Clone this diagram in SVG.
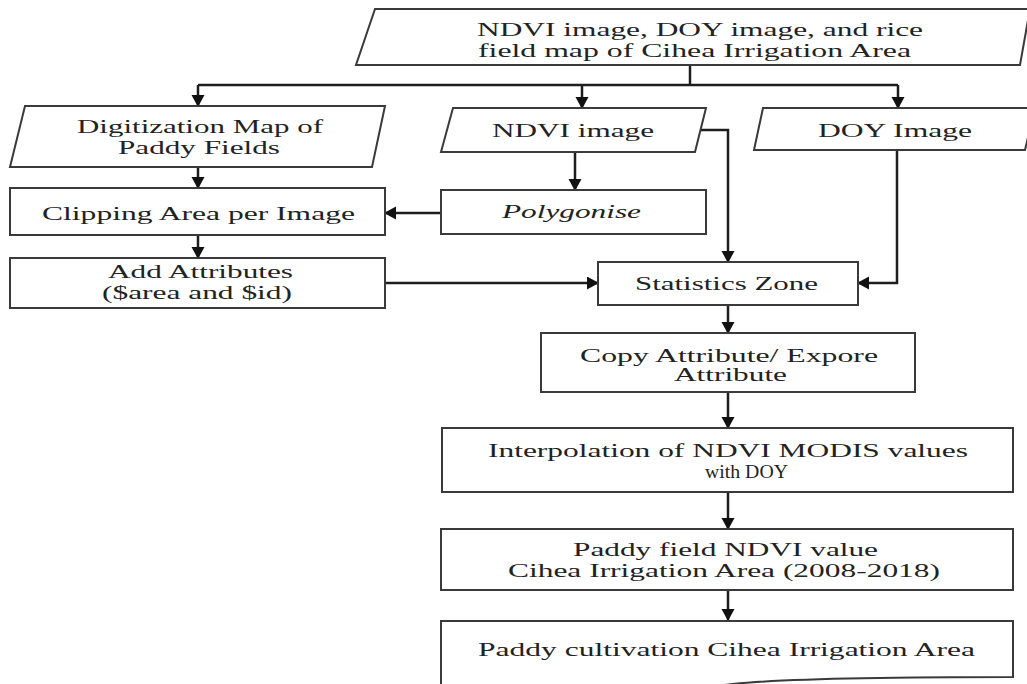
<svg xmlns="http://www.w3.org/2000/svg" width="1027" height="684" viewBox="0 0 1027 684">
<style>
.box{fill:#fff;stroke:#3a3a3a;stroke-width:2}
.t{font-family:"Liberation Serif","Times New Roman",serif;font-size:19.5px;fill:#222}
.i{font-style:italic}
.c{fill:none;stroke:#1e1e1e;stroke-width:2.5}
</style>
<defs>
<marker id="ah" markerUnits="userSpaceOnUse" markerWidth="14" markerHeight="14" refX="11" refY="6.5" orient="auto">
<path d="M0,0 L12,6.5 L0,13 Z" fill="#111"/>
</marker>
</defs>
<rect width="1027" height="684" fill="#fff"/>
<g id="connectors">
<path class="c" d="M690,65 V85"/>
<path class="c" d="M198,85 H898"/>
<path class="c" d="M198,85 V106" marker-end="url(#ah)"/>
<path class="c" d="M582,85 V108" marker-end="url(#ah)"/>
<path class="c" d="M898,85 V108" marker-end="url(#ah)"/>
<path class="c" d="M198,167 V188" marker-end="url(#ah)"/>
<path class="c" d="M198,235 V258" marker-end="url(#ah)"/>
<path class="c" d="M441,213 H385" marker-end="url(#ah)"/>
<path class="c" d="M575,152 V190" marker-end="url(#ah)"/>
<path class="c" d="M700,130 H728 V262" marker-end="url(#ah)"/>
<path class="c" d="M897,150 V283 H858" marker-end="url(#ah)"/>
<path class="c" d="M385,283 H598" marker-end="url(#ah)"/>
<path class="c" d="M728,305 V333" marker-end="url(#ah)"/>
<path class="c" d="M728,392 V428" marker-end="url(#ah)"/>
<path class="c" d="M728,492 V529" marker-end="url(#ah)"/>
<path class="c" d="M728,590 V620" marker-end="url(#ah)"/>
</g>
<g id="input">
<polygon class="box" points="375,9 1030,9 1020,65 356,65"/>
<text class="t" x="477" y="36" textLength="446" lengthAdjust="spacingAndGlyphs">NDVI image, DOY image, and rice</text>
<text class="t" x="478" y="57" textLength="433" lengthAdjust="spacingAndGlyphs">field map of Cihea Irrigation Area</text>
</g>
<g id="digitization">
<polygon class="box" points="25,106 385,106 372,167 10,167"/>
<text class="t" x="77" y="133" textLength="246" lengthAdjust="spacingAndGlyphs">Digitization Map of</text>
<text class="t" x="118" y="154" textLength="162" lengthAdjust="spacingAndGlyphs">Paddy Fields</text>
</g>
<g id="ndvi">
<polygon class="box" points="453,108 706,108 695,152 441,152"/>
<text class="t" x="492" y="137" textLength="162" lengthAdjust="spacingAndGlyphs">NDVI image</text>
</g>
<g id="doy">
<polygon class="box" points="763,108 1035,108 1025,150 754,150"/>
<text class="t" x="818" y="137" textLength="154" lengthAdjust="spacingAndGlyphs">DOY Image</text>
</g>
<g id="clipping">
<rect class="box" x="10" y="188" width="375" height="47"/>
<text class="t" x="42" y="220" textLength="313" lengthAdjust="spacingAndGlyphs">Clipping Area per Image</text>
</g>
<g id="polygonise">
<rect class="box" x="441" y="190" width="265" height="44"/>
<text class="t i" x="502" y="218" textLength="139" lengthAdjust="spacingAndGlyphs">Polygonise</text>
</g>
<g id="attributes">
<rect class="box" x="10" y="258" width="375" height="50"/>
<text class="t" x="108" y="278" textLength="185" lengthAdjust="spacingAndGlyphs">Add Attributes</text>
<text class="t" x="102" y="299" textLength="190" lengthAdjust="spacingAndGlyphs">($area and $id)</text>
</g>
<g id="statistics">
<rect class="box" x="598" y="262" width="260" height="43"/>
<text class="t" x="635" y="290" textLength="183" lengthAdjust="spacingAndGlyphs">Statistics Zone</text>
</g>
<g id="copy">
<rect class="box" x="541" y="333" width="374" height="59"/>
<text class="t" x="580" y="362" textLength="298" lengthAdjust="spacingAndGlyphs">Copy Attribute/ Expore</text>
<text class="t" x="674" y="381" textLength="113" lengthAdjust="spacingAndGlyphs">Attribute</text>
</g>
<g id="interpolation">
<rect class="box" x="442" y="428" width="571" height="64"/>
<text class="t" x="488" y="457" textLength="480" lengthAdjust="spacingAndGlyphs">Interpolation of NDVI MODIS values</text>
<text class="t" x="705" y="478" textLength="83" lengthAdjust="spacingAndGlyphs">with DOY</text>
</g>
<g id="paddy-ndvi">
<rect class="box" x="441" y="529" width="572" height="61"/>
<text class="t" x="573" y="556" textLength="305" lengthAdjust="spacingAndGlyphs">Paddy field NDVI value</text>
<text class="t" x="508" y="577" textLength="432" lengthAdjust="spacingAndGlyphs">Cihea Irrigation Area (2008-2018)</text>
</g>
<g id="paddy-cultivation">
<path class="box" d="M441,621 H1013 V677 C900,677 790,678 733,684 C650,694 540,700 441,690 Z"/>
<text class="t" x="478" y="656" textLength="497" lengthAdjust="spacingAndGlyphs">Paddy cultivation Cihea Irrigation Area</text>
</g>
</svg>
